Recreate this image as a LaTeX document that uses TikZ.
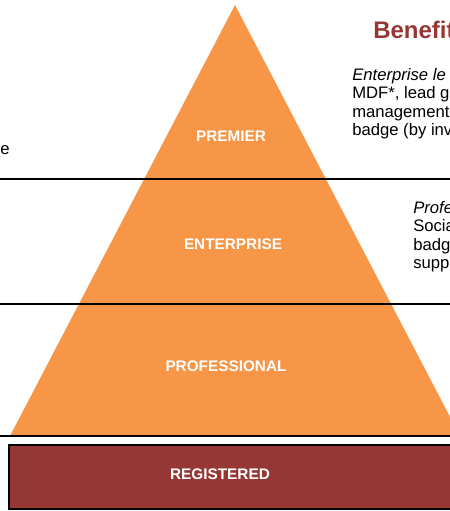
\documentclass[tikz,border=0pt]{standalone}
\usepackage{fontspec}
\setmainfont{Liberation Sans}
\usepackage{xcolor}
\usetikzlibrary{positioning,calc}

\definecolor{tierorange}{HTML}{F79646}
\definecolor{tierred}{HTML}{953735}

\begin{document}
\begin{tikzpicture}[
      x=0.75pt,y=-0.75pt,
      tier/.style={
        text=white,
        font=\fontsize{11.5}{13}\selectfont\bfseries,
        inner sep=0pt
      },
      body/.style={
        anchor=north west,
        align=left,
        inner sep=0pt,
        font=\fontsize{12.5}{13.8}\selectfont
      },
      divider/.style={line width=1.3pt,draw=black}
    ]
    \useasboundingbox (0,0) rectangle (450,511);
    \clip (0,0) rectangle (450,511);

    % Pyramid
    \fill[tierorange] (235,5) -- (460,436) -- (10,436) -- cycle;

    % Tier dividers
    \draw[divider] (0,179) -- (450,179);
    \draw[divider] (0,304) -- (450,304);
    \draw[divider] (0,436) -- (450,436);

    % Tier labels
    \node[tier] (premier) at (231,136) {PREMIER};
    \node[tier] (enterprise) at (233,244) {ENTERPRISE};
    \node[tier] (professional) at (226,366) {PROFESSIONAL};

    % Base tier
    \draw[fill=tierred,draw=black,line width=1.2pt] (9,445) rectangle (470,509);
    \node[tier] (registered) at (220,474) {REGISTERED};

    % Benefits column
    \node[anchor=base west,inner sep=0pt,text=tierred,
          font=\fontsize{18}{21}\selectfont\bfseries] (benefits) at (373,38) {Benefit};
    \node[body] (entbenefit) at (352,68) {\itshape Enterprise le\\
      MDF*, lead g\\management\\badge (by inv};
    \node[body] (probenefit) at (413,201) {\itshape Profe\\
      Socia\\badg\\supp};
    \node[anchor=east,inner sep=0pt,font=\fontsize{12.5}{12.6}\selectfont] (leftcut) at (10,150) {e};
  \end{tikzpicture}
\end{document}
